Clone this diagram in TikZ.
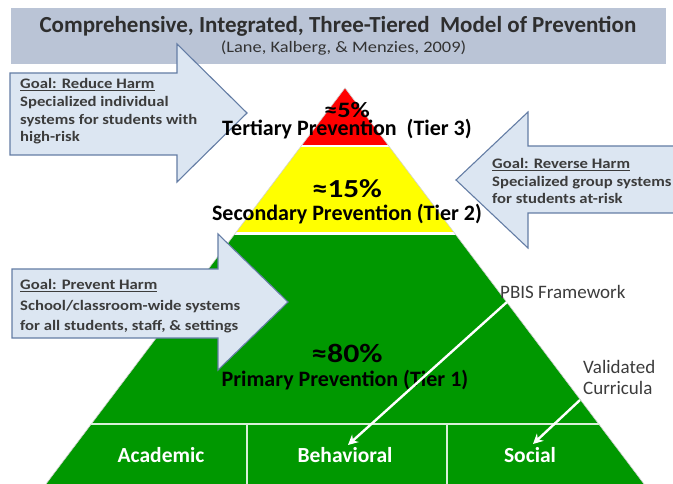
\documentclass[tikz,border=0pt]{standalone}
\usepackage{fontspec}
\setmainfont{Carlito}
\newfontfamily\widefont{Carlito}[FakeStretch=1.15]
\newfontfamily\widerfont{Carlito}[FakeStretch=1.2]
\usetikzlibrary{arrows.meta}
\definecolor{bannerc}{RGB}{186,196,214}
\definecolor{tred}{RGB}{255,0,0}
\definecolor{tyellow}{RGB}{255,255,0}
\definecolor{tgreen}{RGB}{0,152,0}
\definecolor{afill}{RGB}{220,230,242}
\definecolor{aedge}{RGB}{100,125,165}
\definecolor{gtext}{RGB}{60,60,60}
\begin{document}
\begin{tikzpicture}[x=1pt,y=-1pt,
  blockarrow/.style={fill=afill,draw=aedge,line width=1.1pt,line join=miter},
  goaltext/.style={anchor=north west,align=left,text=gtext,inner sep=0pt,
    font=\widefont\bfseries\fontsize{14.5}{17.7}\selectfont},
  tierpct/.style={inner sep=0pt},
  tiername/.style={inner sep=0pt,font=\bfseries\fontsize{22}{22}\selectfont},
  sidenote/.style={font=\fontsize{19}{21.5}\selectfont,text=gtext,align=left,inner sep=0pt},
  domlabel/.style={font=\bfseries\fontsize{21.5}{21.5}\selectfont,text=white,inner sep=0pt},
  pointer/.style={white,line width=2.4pt,-{Stealth[length=10pt,width=10pt]}},
  tiersep/.style={white,line width=2.5pt},
  gridline/.style={white!85!tgreen,line width=1.8pt},
]
\useasboundingbox (0,0) rectangle (673,484);
% banner
\fill[bannerc] (11,8) rectangle (666,64);
\node[inner sep=0pt,font=\bfseries\fontsize{23}{23}\selectfont,text=black!82] (title) at (338,26)
  {Comprehensive, Integrated, Three-Tiered\ \ Model of Prevention};
\node[inner sep=0pt,font=\widefont\fontsize{16}{16}\selectfont,text=black!80] (cite) at (343.5,48)
  {(Lane, Kalberg, \& Menzies, 2009)};
% pyramid
\fill[tred] (345,88) -- (301.2,146) -- (388.8,146) -- cycle;
\fill[tyellow] (301.2,146) -- (235.5,233) -- (454.5,233) -- (388.8,146) -- cycle;
\fill[tgreen] (235.5,233) -- (46,484) -- (644,484) -- (454.5,233) -- cycle;
\draw[tiersep] (298,146) -- (392,146);
\draw[tiersep] (232,233.5) -- (458,233.5);
\draw[gray!35,line width=0.6pt] (46,484) -- (345,88) -- (644,484);
\draw[gridline] (91.3,424) -- (598.7,424);
\draw[gridline] (247,424) -- (247,484);
\draw[gridline] (447,424) -- (447,484);
% block arrows
\draw[blockarrow] (10,73) -- (177,73) -- (177,44) -- (247,113) -- (177,182) -- (177,155) -- (10,155) -- cycle;
\node[goaltext] (g3) at (20,78.5) {\underline{Goal: Reduce Harm}\\Specialized individual\\systems for students with\\high-risk};
\fill[afill] (673,146) -- (528,146) -- (528,112) -- (456,180) -- (528,248) -- (528,213) -- (673,213) -- cycle;
\draw[blockarrow,fill=none] (673,146) -- (528,146) -- (528,112) -- (456,180) -- (528,248) -- (528,213) -- (673,213);
\node[goaltext] (g2) at (492,158) {\underline{Goal: Reverse Harm}\\Specialized group systems\\for students at-risk};
\draw[blockarrow] (12,269) -- (218,269) -- (218,234) -- (288,302) -- (218,370) -- (218,338) -- (12,338) -- cycle;
\node[goaltext,font=\widefont\bfseries\fontsize{14.5}{20.5}\selectfont] (g1) at (20,279.5) {\underline{Goal: Prevent Harm}\\School/classroom-wide systems\\for all students, staff, \& settings};
% tier labels
\node[tierpct,font=\widerfont\bfseries\fontsize{22}{22}\selectfont] (p3) at (347,110) {≈5\%};
\node[tiername] (n3) at (347,129) {Tertiary Prevention\ \ (Tier 3)};
\node[tierpct,font=\widerfont\bfseries\fontsize{26}{26}\selectfont] (p2) at (347,189) {≈15\%};
\node[tiername] (n2) at (347,214) {Secondary Prevention (Tier 2)};
\node[tierpct,font=\widerfont\bfseries\fontsize{26.5}{26.5}\selectfont] (p1) at (347,353) {≈80\%};
\node[tiername] (n1) at (345,380) {Primary Prevention (Tier 1)};
% domains
\node[domlabel] (acad) at (161,455) {Academic};
\node[domlabel] (behav) at (345,455) {Behavioral};
\node[domlabel] (soc) at (530,455) {Social};
% side notes and pointers
\node[sidenote,anchor=west] (pbis) at (500,292) {PBIS Framework};
\node[sidenote,anchor=north west] (valid) at (583,360) {Validated\\Curricula};
\coordinate (pbisfoot) at (507,302);
\coordinate (validfoot) at (580,400);
\coordinate (behavtip) at (348,445);
\coordinate (soctip) at (533,444);
\draw[pointer] (pbisfoot) -- (behavtip);
\draw[pointer] (validfoot) -- (soctip);
\end{tikzpicture}
\end{document}
